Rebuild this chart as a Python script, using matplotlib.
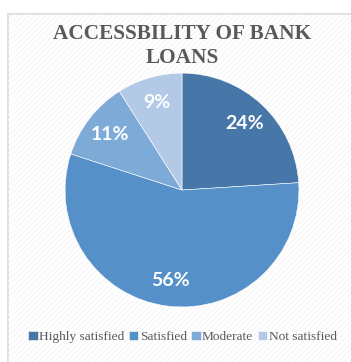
import matplotlib.pyplot as plt
from matplotlib.patches import Rectangle

labels = ["Highly satisfied", "Satisfied", "Moderate", "Not satisfied"]
values = [24, 56, 11, 9]
colors = ["#4677a8", "#5590c8", "#7eaad8", "#b4c9e6"]

plt.rcParams["hatch.linewidth"] = 0.6
fig = plt.figure(figsize=(3.51, 3.62), dpi=100)

# frame with light diagonal hatch
frame = Rectangle((8 / 351, -0.05), 1.0, 1 - 14 / 362 + 0.05, transform=fig.transFigure,
                  facecolor="white", edgecolor="#d9d9d9", linewidth=1.2, zorder=-3)
fig.patches.append(frame)
hatch = Rectangle((8 / 351, -0.05), 1.0, 1 - 14 / 362 + 0.05, transform=fig.transFigure,
                  facecolor="none", edgecolor="#f3f3f3", hatch="//////", linewidth=0, zorder=-2)
fig.patches.append(hatch)

ax = fig.add_axes([0.185, 0.152, 0.667, 0.646])
wedges, texts, autotexts = ax.pie(values, colors=colors, startangle=90, counterclock=False,
                                  autopct="%d%%", pctdistance=0.78,
                                  wedgeprops=dict(edgecolor="white", linewidth=0.4))
for t in autotexts:
    t.set_color("white")
    t.set_fontsize(14)
    t.set_fontweight("bold")
    t.set_family("Lato")
ax.set_xlim(-1, 1)
ax.set_ylim(-1, 1)
ax.set_aspect("equal")
ax.axis("off")

fig.text(0.52, 1 - 46 / 362, "ACCESSBILITY OF BANK\nLOANS", ha="center", va="center",
         fontsize=15.3, fontweight="bold", family="Liberation Serif", color="#595959",
         linespacing=1.3)

leg = fig.legend(wedges, labels, loc="center", bbox_to_anchor=(0.52, 1 - 337 / 362), ncol=4,
                 frameon=False, handlelength=0.7, handleheight=0.7, handletextpad=0.1,
                 columnspacing=0.35, prop={"family": "Liberation Serif", "size": 9.6})
for t in leg.get_texts():
    t.set_color("#595959")

fig.savefig("out.png", dpi=100)
